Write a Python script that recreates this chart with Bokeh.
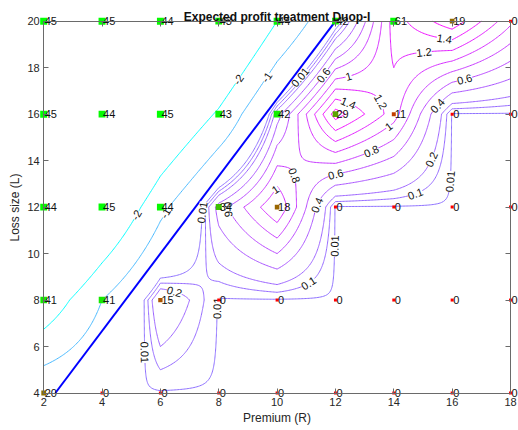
import math
import numpy as np
import contourpy
from bokeh.plotting import figure
from bokeh.models import LinearAxis, Label, ColumnDataSource, FixedTicker, Range1d
from bokeh.core.properties import value
from bokeh.embed import file_html
from bokeh.resources import INLINE

# ---------------- data ----------------
premium = [2, 4, 6, 8, 10, 12, 14, 16, 18]          # R
loss = [4, 8, 12, 16, 20]                           # L
# expected profit at each (L row, R column)
profit = [
    [-0.25, 0.0, 0.0, 0.0, 0.0, 0.0, 0.0, 0.0, 0.0],
    [-2.8, -1.0, 0.4, 0.0, 0.0, 0.0, 0.0, 0.0, 0.0],
    [-5.7, -3.5, -1.25, 0.5, 1.2, 0.0, 0.0, 0.0, 0.0],
    [-8.2, -5.9, -3.5, -1.85, 0.3, 1.7, 1.1, 0.0, 0.0],
    [-10.5, -8.4, -6.3, -4.2, -2.0, -0.15, 1.3, 1.75, 1.05],
]
# number shown at each grid point
counts = [
    [20, 0, 0, 0, 0, 0, 0, 0, 0],
    [41, 41, 15, 0, 0, 0, 0, 0, 0],
    [44, 45, 44, 34, 18, 0, 0, 0, 0],
    [45, 44, 45, 43, 42, 29, 11, 0, 0],
    [45, 45, 44, 43, 44, 42, 61, 19, 0],
]
levels = [-2, -1, 0.01, 0.1, 0.2, 0.4, 0.6, 0.8, 1, 1.2, 1.4, 1.6]
breakeven_premium = [2.4, 12.0]
breakeven_loss = [4.0, 20.0]
x_ticks = [2, 4, 6, 8, 10, 12, 14, 16, 18]
y_ticks = [4, 6, 8, 10, 12, 14, 16, 18, 20]
title_text = "Expected profit treatment Duop-I"

# ---------------- layout: the box sits inside a full-canvas frame ----------------
W, H = 518, 430
FL, FR, FT, FB = 43.2, 510.0, 20.7, 392.5      # box edges in canvas pixels
sx = (FR - FL) / (x_ticks[-1] - x_ticks[0])
sy = (FB - FT) / (y_ticks[-1] - y_ticks[0])
x_rng = Range1d(x_ticks[0] - FL / sx, x_ticks[-1] + (W - FR) / sx)
y_rng = Range1d(y_ticks[0] - (H - FB) / sy, y_ticks[-1] + FT / sy)

FONT = "Liberation Sans"
AX = "#6a6a6a"
TXT = "#262626"

p = figure(width=W, height=H, x_range=x_rng, y_range=y_rng,
           output_backend="svg", toolbar_location=None,
           min_border=0, min_border_left=0, min_border_right=0,
           min_border_top=0, min_border_bottom=0)
p.background_fill_color = "white"
p.border_fill_color = "white"
p.outline_line_color = None
p.grid.visible = False

def style_axis(ax, ticks, loc, bounds, labels=True):
    ax.ticker = FixedTicker(ticks=ticks)
    ax.fixed_location = loc
    ax.bounds = bounds
    ax.major_tick_in = 5
    ax.major_tick_out = 0
    ax.minor_tick_line_color = None
    ax.axis_line_color = AX
    ax.major_tick_line_color = AX
    ax.major_label_text_font = FONT
    ax.major_label_text_font_size = "11px"
    ax.major_label_text_color = TXT if labels else None
    ax.axis_label_text_font = FONT
    ax.axis_label_text_font_size = "12px"
    ax.axis_label_text_font_style = "normal"
    ax.axis_label_text_color = TXT

xb = (x_ticks[0], x_ticks[-1])
yb = (y_ticks[0], y_ticks[-1])
style_axis(p.xaxis[0], x_ticks, y_ticks[0], xb)
style_axis(p.yaxis[0], y_ticks, x_ticks[0], yb)
p.xaxis.axis_label = "Premium (R)"
p.yaxis.axis_label = "Loss size (L)"
p.xaxis.major_label_standoff = 5
p.xaxis.axis_label_standoff = 1
p.yaxis.major_label_standoff = 4
p.yaxis.axis_label_standoff = 2

ax_r = LinearAxis()
style_axis(ax_r, y_ticks, x_ticks[-1], yb, labels=False)
p.add_layout(ax_r, "right")
ax_t = LinearAxis()
style_axis(ax_t, x_ticks, y_ticks[-1], xb, labels=False)
p.add_layout(ax_t, "above")

# ---------------- contour field (bilinear refinement of the grid) ----------------
Z = np.array(profit, dtype=float)
xs = np.linspace(premium[0], premium[-1], 321)
ys = np.linspace(loss[0], loss[-1], 321)
Zr = np.array([np.interp(xs, premium, row) for row in Z])
Zf = np.array([np.interp(ys, loss, Zr[:, j]) for j in range(len(xs))]).T

def cool(v):
    t = (v - levels[0]) / (levels[-1] - levels[0])
    t = min(max(t, 0.0), 1.0)
    return "#%02x%02x%02x" % (int(round(255 * t)), int(round(255 * (1 - t))), 255)

cg = contourpy.contour_generator(xs, ys, Zf)
BW, BH = FR - FL, FB - FT
lab_x, lab_y, lab_t, lab_a = [], [], [], []
placed = []
for lev in levels:
    segs = [ln for ln in cg.lines(lev) if len(ln) > 1]
    if not segs:
        continue
    p.multi_line([list(s[:, 0]) for s in segs], [list(s[:, 1]) for s in segs],
                 line_color=cool(lev), line_width=1)
    for s in segs:
        px = (s[:, 0] - x_ticks[0]) / (x_ticks[-1] - x_ticks[0]) * BW
        py = (y_ticks[-1] - s[:, 1]) / (y_ticks[-1] - y_ticks[0]) * BH
        d = np.hypot(np.diff(px), np.diff(py))
        cum = np.concatenate([[0], np.cumsum(d)])
        total = cum[-1]
        if total < 30:
            continue
        targets = [total / 2] if total < 170 else list(np.arange(70, total - 40, 170))
        for t in targets:
            qx = np.interp(t, cum, px); qy = np.interp(t, cum, py)
            if qx < 10 or qx > BW - 10 or qy < 8 or qy > BH - 8:
                continue
            if any(math.hypot(qx - ox, qy - oy) < 22 for ox, oy in placed):
                continue
            t1, t2 = max(t - 8, 0), min(t + 8, total)
            dx = np.interp(t2, cum, px) - np.interp(t1, cum, px)
            dy = np.interp(t2, cum, py) - np.interp(t1, cum, py)
            ang = math.atan2(-dy, dx)
            if ang > math.pi / 2:
                ang -= math.pi
            if ang < -math.pi / 2:
                ang += math.pi
            placed.append((qx, qy))
            lab_x.append(float(np.interp(t, cum, s[:, 0])))
            lab_y.append(float(np.interp(t, cum, s[:, 1])))
            lab_t.append("%g" % lev)
            lab_a.append(ang)

# break-even line
p.line(breakeven_premium, breakeven_loss, line_color="#0000ff", line_width=2)

# contour labels
p.text(x=lab_x, y=lab_y, text=lab_t, angle=lab_a, text_align="center", text_baseline="middle",
       text_font=value(FONT), text_font_size="11px", text_color="#111111",
       background_fill_color="white")

# ---------------- grid points with counts ----------------
gx, gy, col, sz, txt = [], [], [], [], []
for i, L in enumerate(loss):
    for j, R in enumerate(premium):
        c = counts[i][j]
        f = min(c / 45.0, 1.0)
        gx.append(R); gy.append(L)
        col.append("#%02x%02x00" % (int(round(255 * (1 - f))), int(round(255 * f))))
        sz.append(3 + 4 * f)
        txt.append(str(c))
src = ColumnDataSource(dict(x=gx, y=gy, color=col, size=sz, t=txt))
p.scatter("x", "y", source=src, marker="square", size="size", fill_color="color", line_color=None)
p.text("x", "y", text="t", source=src, x_offset=1, text_align="left", text_baseline="middle",
       text_font=value(FONT), text_font_size="11px", text_color="#111111")

# title
p.add_layout(Label(x=(x_ticks[0] + x_ticks[-1]) / 2, y=y_ticks[-1], text=title_text,
                   text_align="center", text_baseline="alphabetic", y_offset=4,
                   text_font=FONT, text_font_size="12px", text_font_style="bold",
                   text_color="#111111"))

open("out.html", "w").write(file_html(p, INLINE))
